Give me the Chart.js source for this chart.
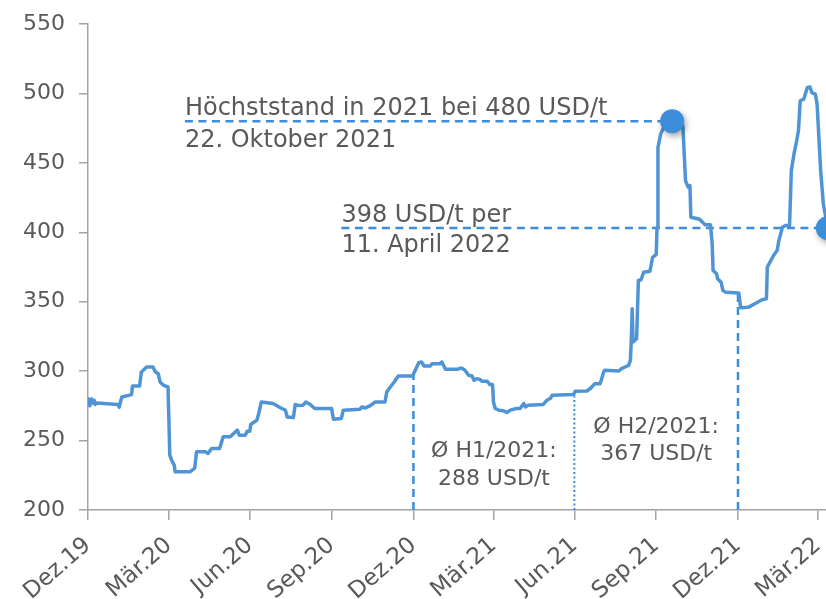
<!DOCTYPE html>
<html lang="de">
<head>
<meta charset="utf-8">
<title>Preisentwicklung USD/t</title>
<script src="https://cdn.jsdelivr.net/npm/chart.js@4.4.1/dist/chart.umd.min.js"></script>
<style>
  html, body { margin: 0; padding: 0; background: #fff; }
  #wrap { width: 826px; height: 599px; }
</style>
</head>
<body>
<div id="wrap"><canvas id="chart" width="826" height="599"></canvas></div>
<script>
const START = '2019-12-31';
const dayOf = (d) => Math.round((Date.parse(d) - Date.parse(START)) / 86400000);

// Preis in USD/t, x = Tage seit 31.12.2019
const days = [
  0, 1, 2, 4, 5, 7, 8, 10, 34, 35, 38, 49, 50, 58, 60, 66, 73, 76, 79, 81, 85, 90,
  92, 94, 97, 98, 115, 117, 120, 122, 132, 135, 139, 148, 152, 160, 165, 168, 170, 177,
  179, 182, 183, 190, 192, 195, 208, 218, 222, 224, 231, 233, 237, 242, 245, 250, 255,
  274, 276, 285, 287, 306, 308, 312, 317, 323, 334, 336, 340, 344, 349, 365, 372, 375,
  378, 385, 387, 396, 398, 402, 415, 420, 424, 428, 432, 434, 437, 441, 443, 449, 452,
  455, 456, 458, 462, 467, 471, 475, 482, 486, 490, 492, 495, 512, 516, 520, 522, 546,
  548, 561, 565, 570, 576, 580, 581, 597, 600, 604, 608, 610, 611, 612, 613, 617, 619,
  622, 625, 632, 635, 639, 640, 641, 644, 649, 657, 669, 672, 675, 677, 678, 687, 690,
  694, 700, 702, 703, 707, 708, 712, 714, 717, 732, 733, 734, 743, 750, 758, 763, 764,
  767, 771, 775, 777, 781, 784, 789, 791, 794, 797, 799, 801, 805, 809, 812, 814, 818,
  820, 822, 824, 827, 832
];
const prices = [
  276, 280, 275, 280, 277, 279, 276, 277, 276, 274, 281.4, 283.1, 289.3, 289.3, 299.4,
  303, 303, 299.4, 298.2, 292.2, 289.8, 288.6,
  239.5, 235.9, 232.3, 227.5, 227.5, 228.7, 230, 241.9, 241.9, 240.7, 244.3, 244.3, 252.7,
  252.7, 255.8, 257.5, 253.9, 253.9,
  256.8, 256.8, 261.6, 264.7, 269.5, 277.8, 276.7, 273.1, 271.9, 267, 266.6, 276, 275.2,
  275.5, 277.8, 276, 273.1,
  273.1, 265.4, 265.9, 271.9, 272.6, 274.2, 273.5, 275, 277.8, 277.8, 285, 288.6, 291.8,
  296.5, 296.5, 306.1, 306.6,
  303.7, 303.7, 305.4, 305.4, 306.6, 301.3, 301.3, 302.3, 300.6, 297, 296.5, 293.4, 294.6,
  294, 292.7, 292.7, 290.3,
  290.3, 277.8, 273.1, 271.9, 271.5, 270.2, 271.9, 273.1, 273.1, 276.7, 274.2, 275.5, 276,
  279, 280.3, 282.6, 283.1,
  285.5, 285.7, 287.5, 291, 291, 299.4, 300.6, 300.1, 301.8, 303, 304.2, 307.8, 322, 345,
  321, 323.4, 365.3,
  365.8, 371.3, 372, 382, 384, 403.6, 461, 470.7, 477.9, 480, 476.7, 437.2, 432.4, 433.6,
  410.8, 409.6, 408,
  405.5, 405.5, 391.7, 372.5, 370.1, 366.5, 364.1, 358.1, 356.9, 356.2, 350.9, 345.7,
  346.1, 348.6, 351.4, 352.1, 374.9,
  378.5, 383.3, 386.9, 394, 403.6, 404.8, 404.8, 444.4, 456.4, 465.9, 473.1, 494.7, 495.9,
  504.3, 504.7, 500.6, 499.5,
  492.3, 468.3, 444.4, 420.4, 403
];

const tickDates = ['2019-12-31', '2020-03-31', '2020-06-30', '2020-09-30', '2020-12-31',
  '2021-03-31', '2021-06-30', '2021-09-30', '2021-12-31', '2022-03-31'];
const tickLabels = ['Dez.19', 'Mär.20', 'Jun.20', 'Sep.20', 'Dez.20',
  'Mär.21', 'Jun.21', 'Sep.21', 'Dez.21', 'Mär.22'];
const tickDays = tickDates.map(dayOf);

// Halbjahresgrenzen 2021 und Durchschnittswerte
const halfYearBounds = ['2020-12-31', '2021-06-30', '2021-12-31'];
const halfYearLabels = [['Ø H1/2021:', '288 USD/t'], ['Ø H2/2021:', '367 USD/t']];
const peakLabel = ['Höchststand in 2021 bei 480 USD/t', '22. Oktober 2021'];
const lastLabel = ['398 USD/t per', '11. April 2022'];

const LINE_BLUE = '#4f95d6';
const MARK_BLUE = '#3c8dda';
const AXIS = '#a3a3a3';
const TEXT = '#595959';
const FONT = '"DejaVu Sans", "Liberation Sans", sans-serif';

const priceAt = (day) => {
  for (let i = 1; i < days.length; i++) {
    if (days[i] >= day) {
      const t = (day - days[i - 1]) / (days[i] - days[i - 1]);
      return prices[i - 1] + t * (prices[i] - prices[i - 1]);
    }
  }
  return prices[prices.length - 1];
};

const boundDays = halfYearBounds.map(dayOf);
let peakIdx = 0;
days.forEach((d, i) => {
  if (d > boundDays[0] && d <= boundDays[2] && prices[i] > prices[peakIdx]) peakIdx = i;
});
const lastIdx = days.length - 1;
const peakPt = { x: days[peakIdx], y: prices[peakIdx] };
const lastPt = { x: days[lastIdx], y: prices[lastIdx] };

// Beginn der gestrichelten Linien (links, unter dem Text)
const peakLineFrom = 109;
const lastLineFrom = 285;

const dashed = (data, dash, width) => ({
  data,
  borderColor: MARK_BLUE,
  borderWidth: width,
  borderDash: dash,
  pointRadius: 0,
  fill: false
});

const notes = {
  id: 'notes',
  beforeDatasetDraw(chart, args) {
    if (args.index !== 0) return;
    const ctx = chart.ctx;
    ctx.save();
    ctx.shadowColor = 'rgba(0,0,0,0.35)';
    ctx.shadowBlur = 6;
    ctx.shadowOffsetX = 2;
    ctx.shadowOffsetY = 3;
  },
  afterDatasetDraw(chart, args) {
    if (args.index === 0) chart.ctx.restore();
  },
  afterDatasetsDraw(chart) {
    const { ctx, scales: { x, y } } = chart;
    ctx.save();
    ctx.fillStyle = TEXT;
    ctx.textBaseline = 'alphabetic';

    ctx.font = '24px ' + FONT;
    ctx.textAlign = 'left';
    const py = y.getPixelForValue(peakPt.y);
    ctx.fillText(peakLabel[0], x.getPixelForValue(peakLineFrom), py - 6);
    ctx.fillText(peakLabel[1], x.getPixelForValue(peakLineFrom), py + 26);
    const ly = y.getPixelForValue(lastPt.y);
    ctx.fillText(lastLabel[0], x.getPixelForValue(lastLineFrom), ly - 6);
    ctx.fillText(lastLabel[1], x.getPixelForValue(lastLineFrom), ly + 24);

    ctx.font = '22px ' + FONT;
    ctx.textAlign = 'center';
    const rows = [[238.4, 218], [255.7, 236]];
    halfYearLabels.forEach((lines, i) => {
      const cx = x.getPixelForValue((boundDays[i] + boundDays[i + 1]) / 2);
      ctx.fillText(lines[0], cx, y.getPixelForValue(rows[i][0]));
      ctx.fillText(lines[1], cx, y.getPixelForValue(rows[i][1]));
    });
    ctx.restore();
  }
};

new Chart(document.getElementById('chart'), {
  type: 'line',
  data: {
    datasets: [
      {
        data: [peakPt, lastPt],
        showLine: false,
        pointRadius: 12,
        pointBorderWidth: 0,
        pointBackgroundColor: MARK_BLUE,
        clip: false
      },
      {
        data: days.map((d, i) => ({ x: d, y: prices[i] })),
        borderColor: LINE_BLUE,
        borderWidth: 3.5,
        pointRadius: 0,
        tension: 0,
        borderJoinStyle: 'round'
      },
      dashed([{ x: peakLineFrom, y: peakPt.y }, peakPt], [8, 5.5], 2.5),
      dashed([{ x: lastLineFrom, y: lastPt.y }, lastPt], [8, 5.5], 2.5),
      dashed([{ x: boundDays[0], y: 200 }, { x: boundDays[0], y: priceAt(boundDays[0]) }], [8, 5], 2.5),
      dashed([{ x: boundDays[1], y: 200 }, { x: boundDays[1], y: priceAt(boundDays[1]) }], [2, 2.5], 2),
      dashed([{ x: boundDays[2], y: 200 }, { x: boundDays[2], y: priceAt(boundDays[2]) }], [8, 5], 2.5)
    ]
  },
  options: {
    responsive: false,
    animation: false,
    events: [],
    layout: { autoPadding: false, padding: { top: 24, right: 0, bottom: 0, left: 0 } },
    plugins: { legend: { display: false }, tooltip: { enabled: false } },
    scales: {
      x: {
        type: 'linear',
        min: 0,
        max: 830,
        afterBuildTicks: (s) => { s.ticks = tickDays.map(v => ({ value: v })); },
        afterFit: (s) => { s.height = 89; s.paddingLeft = 0; s.paddingRight = 0; },
        ticks: {
          autoSkip: false,
          minRotation: 41,
          maxRotation: 41,
          padding: 12,
          color: TEXT,
          font: { family: FONT, size: 23 },
          callback: (v) => tickLabels[tickDays.indexOf(v)] ?? ''
        },
        grid: { drawOnChartArea: false, tickLength: 10, color: AXIS, lineWidth: 1.5 },
        border: { color: AXIS, width: 1.5 }
      },
      y: {
        min: 200,
        max: 550,
        afterFit: (s) => { s.width = 88; s.paddingTop = 0; s.paddingBottom = 0; },
        ticks: { stepSize: 50, padding: 14, color: TEXT, font: { family: FONT, size: 22 } },
        grid: { drawOnChartArea: false, tickLength: 9, color: AXIS, lineWidth: 1.5 },
        border: { color: AXIS, width: 1.5 }
      }
    }
  },
  plugins: [notes]
});
</script>
</body>
</html>
